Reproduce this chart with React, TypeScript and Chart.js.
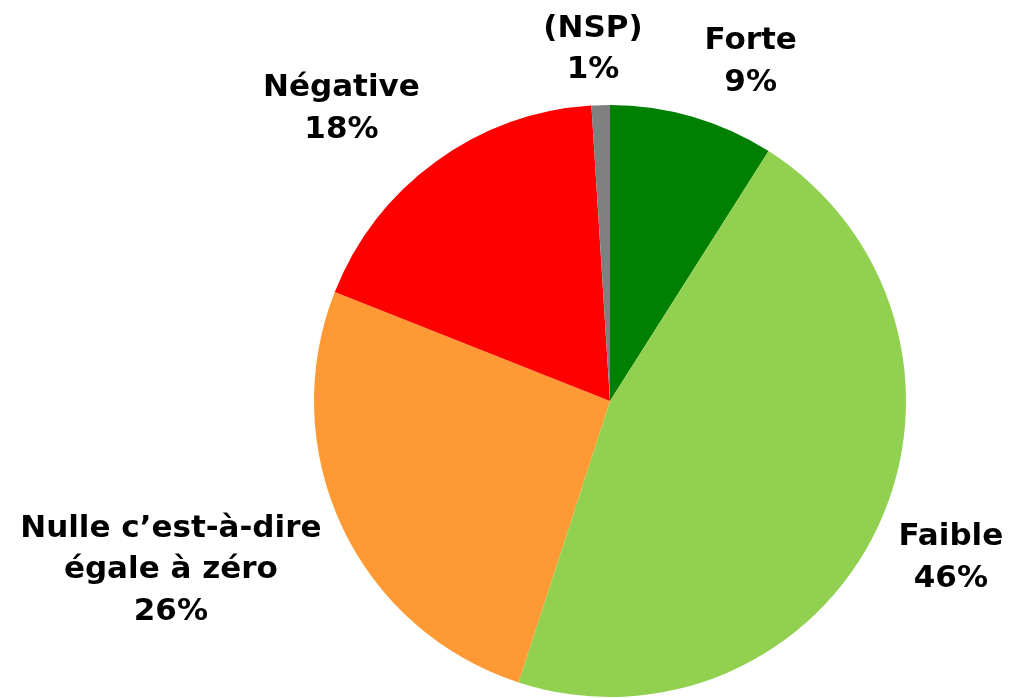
import React, { useEffect, useRef } from "react";
import { Chart, registerables } from "chart.js";

Chart.register(...registerables);

const categories = ["Forte", "Faible", "Nulle c’est-à-dire\négale à zéro", "Négative", "(NSP)"];
const values = [9, 46, 26, 18, 1];
const sliceColors = ["#008000", "#92D050", "#FF9933", "#FF0000", "#808080"];

const FONT_SIZE = 31;
const LINE_H = 41.5;
const FONT = `bold ${FONT_SIZE}px "DejaVu Sans", sans-serif`;

const clamp = (v: number) => Math.max(-1, Math.min(1, v));

const outsideLabels = {
  id: "outsideLabels",
  afterDatasetsDraw(chart: any) {
    const ctx = chart.ctx;
    const meta = chart.getDatasetMeta(0);
    const data = chart.data.datasets[0].data as number[];
    const total = data.reduce((a, b) => a + b, 0);
    ctx.save();
    ctx.font = FONT;
    ctx.fillStyle = "#000";
    ctx.textAlign = "center";
    ctx.textBaseline = "middle";
    meta.data.forEach((arc: any, i: number) => {
      const p = arc.getProps(["x", "y", "startAngle", "endAngle", "outerRadius"], true);
      const mid = (p.startAngle + p.endAngle) / 2;
      const dx = Math.cos(mid);
      const dy = Math.sin(mid);
      const lines = String(chart.data.labels[i]).split("\n");
      lines.push(Math.round((data[i] / total) * 100) + "%");
      const w = Math.max(...lines.map((l: string) => ctx.measureText(l).width));
      const h = lines.length * LINE_H;
      const rr = p.outerRadius + 14;
      const ax = p.x + rr * dx;
      const ay = p.y + rr * dy;
      const cx = ax + clamp(4 * dx) * (w / 2 + 8);
      const cy = ay + clamp(1.4 * dy) * (h / 2);
      lines.forEach((l: string, k: number) => {
        const ly = cy - h / 2 + LINE_H * (k + 0.5);
        ctx.fillText(l, cx, ly);
      });
    });
    ctx.restore();
  },
};

export default function App() {
  const ref = useRef<HTMLCanvasElement | null>(null);
  useEffect(() => {
    if (!ref.current) return;
    const chart = new Chart(ref.current, {
      type: "pie",
      data: {
        labels: categories,
        datasets: [
          {
            data: values,
            backgroundColor: sliceColors,
            borderWidth: 0,
          },
        ],
      },
      options: {
        animation: false,
        responsive: true,
        maintainAspectRatio: false,
        layout: { padding: { left: 314, right: 105, top: 105, bottom: 1 } },
        plugins: {
          legend: { display: false },
          tooltip: { enabled: false },
        },
      },
      plugins: [outsideLabels],
    });
    return () => chart.destroy();
  }, []);
  return (
    <div style={{ position: "absolute", left: 0, top: 0, width: 1011, height: 698, background: "#fff" }}>
      <canvas ref={ref} />
    </div>
  );
}
